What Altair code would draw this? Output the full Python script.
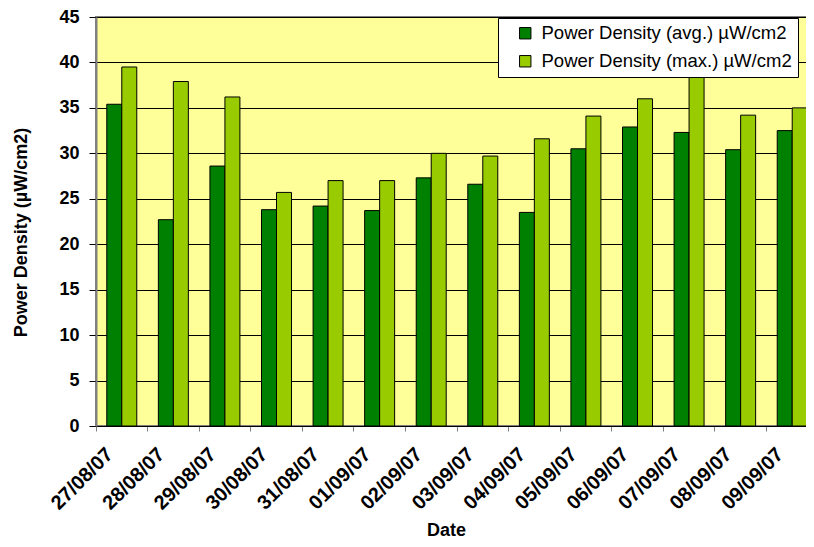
import altair as alt
import pandas as pd

dates = ["27/08/07", "28/08/07", "29/08/07", "30/08/07", "31/08/07", "01/09/07", "02/09/07",
         "03/09/07", "04/09/07", "05/09/07", "06/09/07", "07/09/07", "08/09/07", "09/09/07"]
avg_vals = [35.4, 22.7, 28.6, 23.8, 24.2, 23.7, 27.3, 26.6, 23.5, 30.5, 32.9, 32.3, 30.4, 32.5]
max_vals = [39.5, 37.9, 36.2, 25.7, 27.0, 27.0, 30.0, 29.7, 31.6, 34.1, 36.0, 41.0, 34.2, 35.0]
series = ["Power Density (avg.) µW/cm2", "Power Density (max.) µW/cm2"]
colors = ["#008000", "#99CC00"]

rows = []
for d, a, m in zip(dates, avg_vals, max_vals):
    rows.append({"Date": d, "Series": series[0], "Value": a})
    rows.append({"Date": d, "Series": series[1], "Value": m})
df = pd.DataFrame(rows)

FONT = "Liberation Sans"

chart = alt.Chart(df).mark_bar(stroke="black", strokeWidth=1).encode(
    x=alt.X("Date:N", sort=dates, title="Date",
            scale=alt.Scale(paddingInner=0, paddingOuter=0),
            axis=alt.Axis(bandPosition=0, labelAngle=-45, labelAlign="right",
                          labelBaseline="middle", labelFontWeight="bold",
                          labelFontSize=20, labelPadding=20, labelOffset=-12,
                          tickColor="#808080", tickSize=5, domainColor="black",
                          titleFontWeight="bold", titleFontSize=18,
                          titleX=350, titleY=104, titleBaseline="middle",
                          titleAlign="center")),
    xOffset=alt.XOffset("Series:N", sort=series,
                        scale=alt.Scale(paddingInner=0, paddingOuter=0.72)),
    y=alt.Y("Value:Q", title="Power Density (µW/cm2)",
            scale=alt.Scale(domain=[0, 45], nice=False),
            axis=alt.Axis(values=list(range(0, 46, 5)), labelFontWeight="bold",
                          labelFontSize=18, tickSize=7, tickColor="black",
                          domainColor="#808080", domainWidth=2,
                          gridColor="black", gridWidth=1, gridOpacity=1,
                          titleFontWeight="bold", titleFontSize=18,
                          titleX=-75, titleY=215, titleBaseline="middle",
                          titleAlign="center", titleAngle=-90, labelPadding=10)),
    color=alt.Color("Series:N", sort=series,
                    scale=alt.Scale(domain=series, range=colors),
                    legend=alt.Legend(title=None, orient="none", legendX=402, legendY=1,
                                      fillColor="white", strokeColor="black",
                                      padding=6, symbolType="square", symbolSize=130,
                                      symbolStrokeColor="black", symbolStrokeWidth=1,
                                      symbolOffset=12, labelOffset=7, labelFontSize=18.5,
                                      labelFont=FONT, rowPadding=9, labelLimit=400,
                                      cornerRadius=0)),
).properties(
    width=722, height=409,
    autosize=alt.AutoSizeParams(type="none"),
    padding={"left": 88, "top": 9, "right": -12, "bottom": 112},
).configure(font=FONT).configure_view(
    fill="#FFFF99", stroke="#808080", strokeWidth=2
).configure_axis(labelColor="black", titleColor="black", labelFont=FONT, titleFont=FONT)

chart.save("out.html", embed_options={"renderer": "svg", "actions": False})
